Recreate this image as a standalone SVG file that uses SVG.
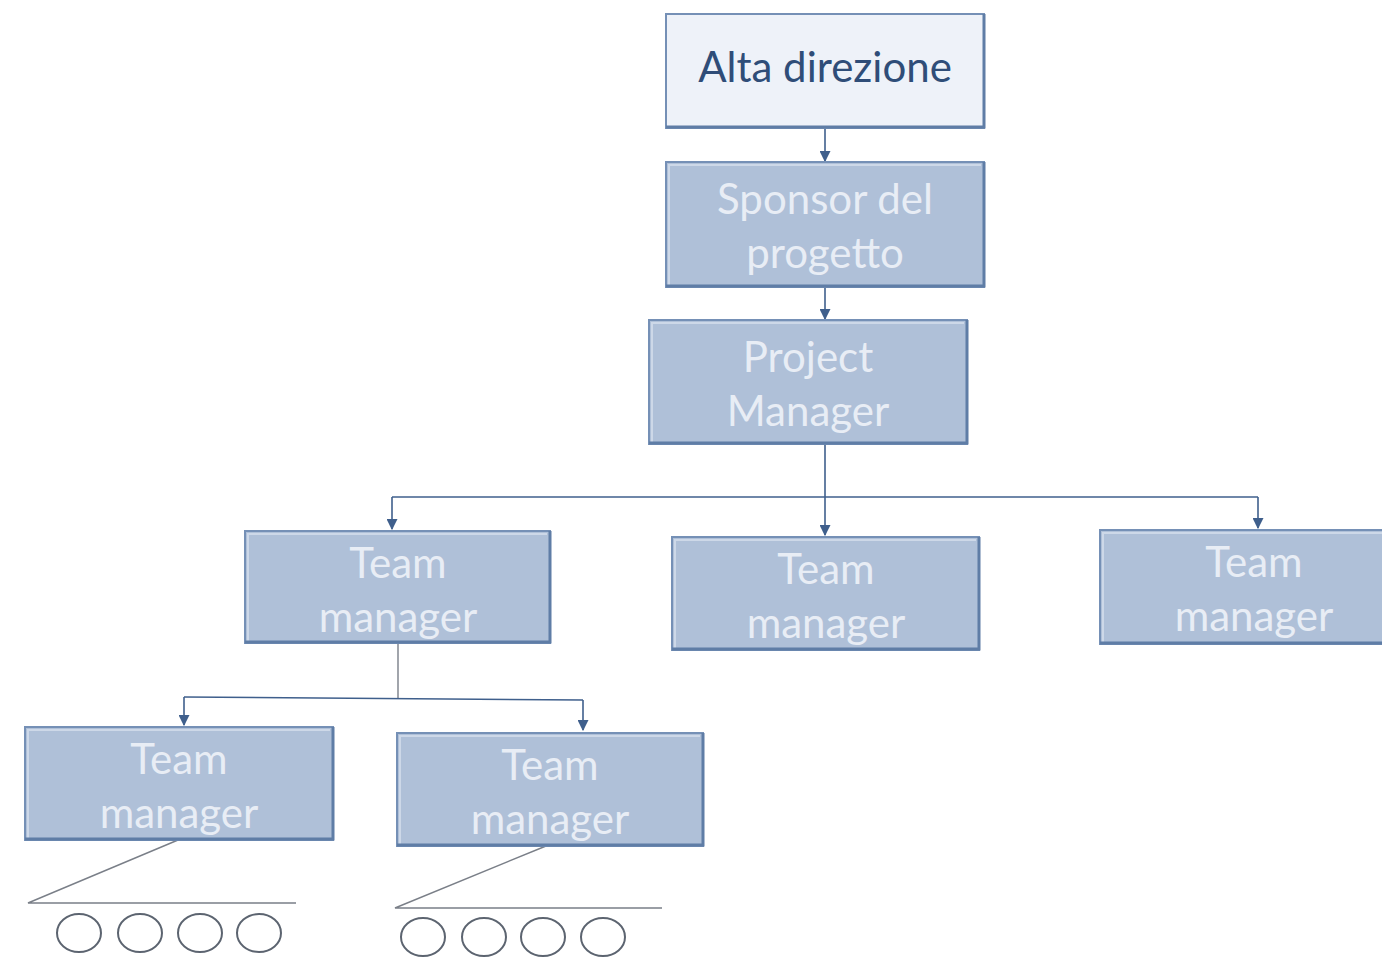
<svg xmlns="http://www.w3.org/2000/svg" width="1382" height="957" viewBox="0 0 1382 957">
  <style>
    .box { fill: #afc0d8; stroke: #7590b6; stroke-width: 2; }
    .top { fill: #eef2f9; stroke: #7590b6; stroke-width: 2; }
    .edge { fill: none; stroke: #5f7da6; stroke-width: 3; }
    .hl { fill: none; stroke: #cdd8e8; stroke-width: 2; }
    .lbl { font-family: Lato, "Open Sans", sans-serif; font-size: 42px; fill: #e8edf5; text-anchor: middle; }
    .lbl-dark { font-family: Lato, "Open Sans", sans-serif; font-size: 42px; fill: #2f4d78; text-anchor: middle; }
    .wire { fill: none; stroke: #3f5f8c; stroke-width: 1.6; }
    .thin { fill: none; stroke: #7a7f88; stroke-width: 1.4; }
    .member { fill: none; stroke: #5c6470; stroke-width: 2; }
  </style>
  <defs>
    <marker id="arrow" viewBox="0 0 10 10" refX="9" refY="5" markerWidth="11" markerHeight="11" markerUnits="userSpaceOnUse" orient="auto">
      <path d="M0,0 L10,5 L0,10 z" fill="#3f5f8c"/>
    </marker>
  </defs>

  <rect width="1382" height="957" fill="#ffffff"/>

  <!-- connectors -->
  <g id="connectors">
    <line class="wire" x1="825" y1="128" x2="825" y2="161" marker-end="url(#arrow)"/>
    <line class="wire" x1="825" y1="288" x2="825" y2="319" marker-end="url(#arrow)"/>
    <line class="wire" x1="825" y1="444" x2="825" y2="535" marker-end="url(#arrow)"/>
    <line class="wire" x1="392" y1="497" x2="1258" y2="497"/>
    <line class="wire" x1="392" y1="497" x2="392" y2="529" marker-end="url(#arrow)"/>
    <line class="wire" x1="1258" y1="497" x2="1258" y2="528" marker-end="url(#arrow)"/>
    <line class="thin" x1="398" y1="643" x2="398" y2="699"/>
    <line class="wire" x1="184" y1="697" x2="583" y2="700"/>
    <line class="wire" x1="184" y1="697" x2="184" y2="725" marker-end="url(#arrow)"/>
    <line class="wire" x1="583" y1="700" x2="583" y2="730" marker-end="url(#arrow)"/>
    <polyline class="thin" points="178,840 28,903 296,903"/>
    <polyline class="thin" points="546,846 395,908 662,908"/>
  </g>

  <g id="alta-direzione">
    <rect class="top" x="666" y="14" width="318" height="114"/>
    <path class="edge" d="M666,127 H984 V14"/>
    <text class="lbl-dark" x="825" y="82">Alta direzione</text>
  </g>

  <g id="sponsor">
    <rect class="box" x="666" y="162" width="318" height="125"/>
    <path class="hl" d="M669,285 V165 H981"/>
    <path class="edge" d="M666,286 H984 V162"/>
    <text class="lbl" x="825" y="214">Sponsor del</text>
    <text class="lbl" x="825" y="268">progetto</text>
  </g>

  <g id="project-manager">
    <rect class="box" x="649" y="320" width="318" height="124"/>
    <path class="hl" d="M652,442 V323 H964"/>
    <path class="edge" d="M649,443 H967 V320"/>
    <text class="lbl" x="808" y="372">Project</text>
    <text class="lbl" x="808" y="426">Manager</text>
  </g>

  <g id="team-manager-1">
    <rect class="box" x="245" y="531" width="305" height="112"/>
    <path class="hl" d="M248,641 V534 H547"/>
    <path class="edge" d="M245,642 H550 V531"/>
    <text class="lbl" x="398" y="578">Team</text>
    <text class="lbl" x="398" y="632">manager</text>
  </g>

  <g id="team-manager-2">
    <rect class="box" x="672" y="537" width="307" height="113"/>
    <path class="hl" d="M675,648 V540 H976"/>
    <path class="edge" d="M672,649 H979 V537"/>
    <text class="lbl" x="826" y="584">Team</text>
    <text class="lbl" x="826" y="638">manager</text>
  </g>

  <g id="team-manager-3">
    <rect class="box" x="1100" y="530" width="290" height="114"/>
    <path class="hl" d="M1103,642 V533 H1382"/>
    <path class="edge" d="M1100,643 H1390"/>
    <text class="lbl" x="1254" y="577">Team</text>
    <text class="lbl" x="1254" y="631">manager</text>
  </g>

  <g id="team-manager-4">
    <rect class="box" x="25" y="727" width="308" height="113"/>
    <path class="hl" d="M28,838 V730 H330"/>
    <path class="edge" d="M25,839 H333 V727"/>
    <text class="lbl" x="179" y="774">Team</text>
    <text class="lbl" x="179" y="828">manager</text>
  </g>

  <g id="team-manager-5">
    <rect class="box" x="397" y="733" width="306" height="113"/>
    <path class="hl" d="M400,844 V736 H700"/>
    <path class="edge" d="M397,845 H703 V733"/>
    <text class="lbl" x="550" y="780">Team</text>
    <text class="lbl" x="550" y="834">manager</text>
  </g>

  <g id="members-1">
    <ellipse class="member" cx="79" cy="933" rx="22" ry="19"/>
    <ellipse class="member" cx="140" cy="933" rx="22" ry="19"/>
    <ellipse class="member" cx="200" cy="933" rx="22" ry="19"/>
    <ellipse class="member" cx="259" cy="933" rx="22" ry="19"/>
  </g>

  <g id="members-2">
    <ellipse class="member" cx="423" cy="937" rx="22" ry="19"/>
    <ellipse class="member" cx="484" cy="937" rx="22" ry="19"/>
    <ellipse class="member" cx="543" cy="937" rx="22" ry="19"/>
    <ellipse class="member" cx="603" cy="937" rx="22" ry="19"/>
  </g>
</svg>
